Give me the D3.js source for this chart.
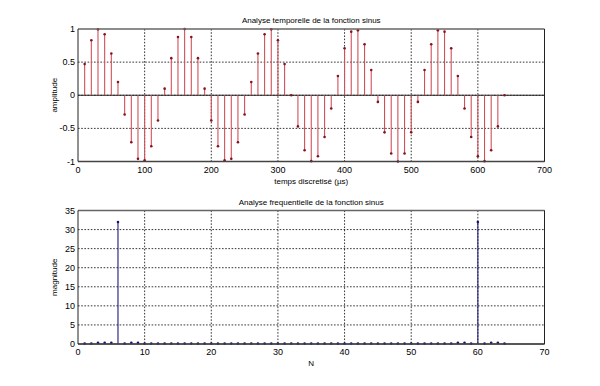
<!DOCTYPE html>
<html>
<head>
<meta charset="utf-8">
<script src="https://cdn.jsdelivr.net/npm/d3@7"></script>
<style>
  body { margin: 0; background: #fff; }
  text { font-family: "Liberation Sans", Arial, sans-serif; }
</style>
</head>
<body>
<svg id="chart"></svg>
<script>
// samples of the time signal (µs) and their amplitude
var temps = [10,20,30,40,50,60,70,80,90,100,110,120,130,140,150,160,170,180,190,200,
    210,220,230,240,250,260,270,280,290,300,310,320,330,340,350,360,370,380,390,400,
    410,420,430,440,450,460,470,480,490,500,510,520,530,540,550,560,570,580,590,600,
    610,620,630,640];
var amplitude = [0.47,0.83,0.995,0.92,0.63,0.2,-0.29,-0.71,-0.96,-0.98,-0.77,-0.38,0.1,0.56,0.88,1,
    0.88,0.56,0.1,-0.38,-0.77,-0.98,-0.96,-0.71,-0.29,0.2,0.63,0.92,0.995,0.83,0.47,0,
    -0.47,-0.83,-0.995,-0.92,-0.63,-0.2,0.29,0.71,0.96,0.98,0.77,0.38,-0.1,-0.56,-0.88,-1,
    -0.88,-0.56,-0.1,0.38,0.77,0.98,0.96,0.71,0.29,-0.2,-0.63,-0.92,-0.995,-0.83,-0.47,0];

// spectrum bins and magnitude
var bins = [1,2,3,4,5,6,7,8,9,10,11,12,13,14,15,16,17,18,19,20,21,22,23,24,25,26,27,28,29,30,
    31,32,33,34,35,36,37,38,39,40,41,42,43,44,45,46,47,48,49,50,51,52,53,54,55,56,57,58,59,60,
    61,62,63,64];
var magnitude = [0.1,0.1,0.3,0.3,0.3,32,0.1,0.3,0.3,0.1,0.1,0.1,0.1,0.1,0.1,0.1,0.1,0.1,0.1,0.1,
    0.1,0.1,0.1,0.1,0.1,0.1,0.1,0.1,0.1,0.1,0.1,0.1,0.1,0.1,0.1,0.1,0.1,0.1,0.1,0.1,
    0.1,0.1,0.1,0.1,0.1,0.1,0.1,0.1,0.1,0.1,0.1,0.1,0.1,0.1,0.1,0.1,0.3,0.3,0.1,32,
    0.1,0.3,0.3,0.1];

var xTicksTop = [0,100,200,300,400,500,600,700];
var yTicksTop = [-1,-0.5,0,0.5,1];
var xTicksBot = [0,10,20,30,40,50,60,70];
var yTicksBot = [0,5,10,15,20,25,30,35];

var w = 600, h = 386;
var left = 78, right = 544.5;

var svg = d3.select("#chart").attr("width", w).attr("height", h);
svg.append("rect").attr("width", w).attr("height", h).attr("fill", "#fff");

function drawPanel(cfg) {
    var x = d3.scaleLinear().domain(cfg.xDomain).range([left, right]);
    var y = d3.scaleLinear().domain(cfg.yDomain).range([cfg.bottom, cfg.top]);
    var g = svg.append("g");

    // dotted grid
    g.selectAll(".gx").data(cfg.xTicks.slice(1)).enter().append("line")
        .attr("x1", d => x(d)).attr("x2", d => x(d))
        .attr("y1", cfg.top).attr("y2", cfg.bottom)
        .attr("stroke", "#000").attr("stroke-width", 0.8).attr("stroke-dasharray", "1.6,1.6");
    g.selectAll(".gy").data(cfg.yTicks.slice(1, -1)).enter().append("line")
        .attr("x1", left).attr("x2", right)
        .attr("y1", d => y(d)).attr("y2", d => y(d))
        .attr("stroke", "#000").attr("stroke-width", 0.8).attr("stroke-dasharray", "1.6,1.6");

    // baseline at zero
    g.append("line").attr("x1", left).attr("x2", right)
        .attr("y1", y(0)).attr("y2", y(0))
        .attr("stroke", "#222").attr("stroke-width", 1);

    // stems
    g.selectAll(".stem").data(cfg.xs).enter().append("line")
        .attr("x1", d => x(d)).attr("x2", d => x(d))
        .attr("y1", y(0)).attr("y2", (d, i) => y(cfg.ys[i]))
        .attr("stroke", cfg.stemColor).attr("stroke-width", 1.1);
    g.selectAll(".mark").data(cfg.xs).enter().append("circle")
        .attr("cx", d => x(d)).attr("cy", (d, i) => y(cfg.ys[i]))
        .attr("r", 1.3).attr("fill", cfg.markColor);

    // frame
    g.append("line").attr("x1", left).attr("x2", right).attr("y1", cfg.top).attr("y2", cfg.top)
        .attr("stroke", "#666").attr("stroke-width", 1.3);
    g.append("line").attr("x1", left).attr("x2", right).attr("y1", cfg.bottom).attr("y2", cfg.bottom)
        .attr("stroke", "#444").attr("stroke-width", 1.3);
    g.append("line").attr("x1", left).attr("x2", left).attr("y1", cfg.top).attr("y2", cfg.bottom)
        .attr("stroke", "#222").attr("stroke-width", 1);
    g.append("line").attr("x1", right).attr("x2", right).attr("y1", cfg.top).attr("y2", cfg.bottom)
        .attr("stroke", "#222").attr("stroke-width", 1);

    // tick labels
    g.selectAll(".xl").data(cfg.xTicks).enter().append("text")
        .attr("x", d => x(d)).attr("y", cfg.bottom + 11)
        .attr("text-anchor", "middle").attr("font-size", "9px").attr("fill", "#000")
        .text(d => d);
    g.selectAll(".yl").data(cfg.yTicks).enter().append("text")
        .attr("x", left - 3).attr("y", d => y(d) + 3)
        .attr("text-anchor", "end").attr("font-size", "9px").attr("fill", "#000")
        .text(d => d);

    // titles
    g.append("text").attr("x", (left + right) / 2).attr("y", cfg.top - 6)
        .attr("text-anchor", "middle").attr("font-size", "8px").text(cfg.title);
    g.append("text").attr("x", (left + right) / 2).attr("y", cfg.bottom + 22)
        .attr("text-anchor", "middle").attr("font-size", "8px").text(cfg.xLabel);
    g.append("text")
        .attr("transform", "translate(" + cfg.yLabelX + "," + ((cfg.top + cfg.bottom) / 2) + ") rotate(-90)")
        .attr("text-anchor", "middle").attr("font-size", "8px").text(cfg.yLabel);
}

drawPanel({
    xDomain: [0, 700], yDomain: [-1, 1], top: 29, bottom: 161.5,
    xTicks: xTicksTop, yTicks: yTicksTop, xs: temps, ys: amplitude,
    stemColor: "#d0505a", markColor: "#8a1020",
    title: "Analyse temporelle de la fonction sinus",
    xLabel: "temps discretisé (µs)", yLabel: "amplitude", yLabelX: 57
});

drawPanel({
    xDomain: [0, 70], yDomain: [0, 35], top: 210.5, bottom: 344,
    xTicks: xTicksBot, yTicks: yTicksBot, xs: bins, ys: magnitude,
    stemColor: "#1c1c78", markColor: "#10107a",
    title: "Analyse frequentielle de la fonction sinus",
    xLabel: "N", yLabel: "magnitude", yLabelX: 57
});
</script>
</body>
</html>
